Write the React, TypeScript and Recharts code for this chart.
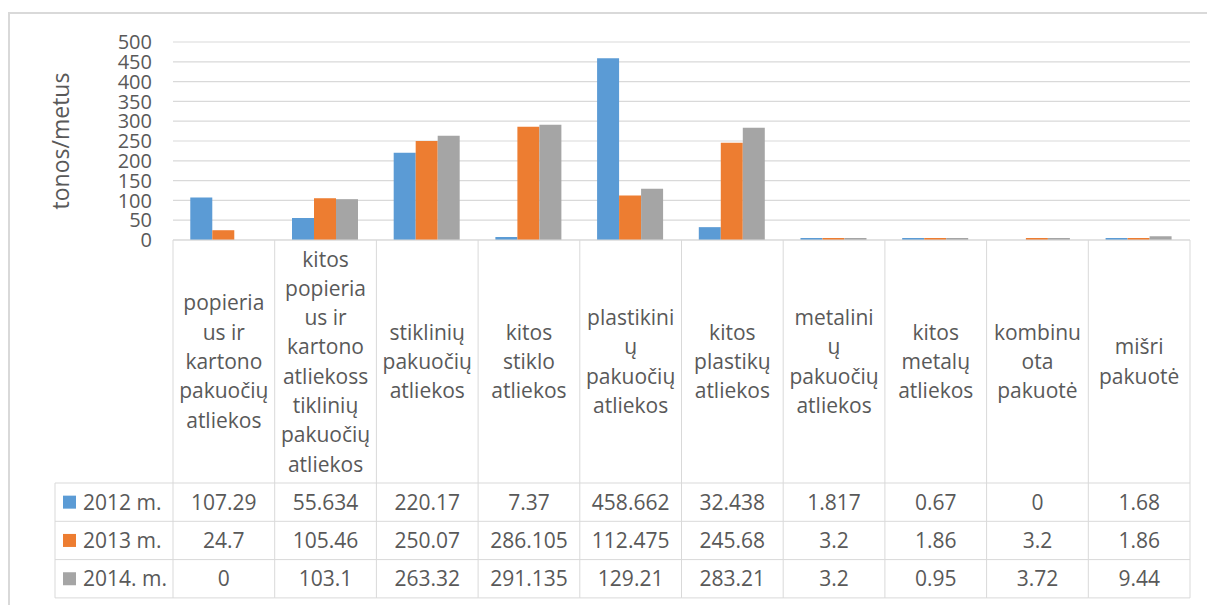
import React from 'react';
import { BarChart, Bar, XAxis, YAxis, CartesianGrid } from 'recharts';

// category labels, wrapped the way the original table wraps them
const categoryLines = [
  ['popieria', 'us ir', 'kartono', 'pakuočių', 'atliekos'],
  ['kitos', 'popieria', 'us ir', 'kartono', 'atliekoss', 'tiklinių', 'pakuočių', 'atliekos'],
  ['stiklinių', 'pakuočių', 'atliekos'],
  ['kitos', 'stiklo', 'atliekos'],
  ['plastikini', 'ų', 'pakuočių', 'atliekos'],
  ['kitos', 'plastikų', 'atliekos'],
  ['metalini', 'ų', 'pakuočių', 'atliekos'],
  ['kitos', 'metalų', 'atliekos'],
  ['kombinu', 'ota', 'pakuotė'],
  ['mišri', 'pakuotė'],
];
const categories = categoryLines.map((l) => l.join(' '));

const values2012 = [107.29, 55.634, 220.17, 7.37, 458.662, 32.438, 1.817, 0.67, 0, 1.68];
const values2013 = [24.7, 105.46, 250.07, 286.105, 112.475, 245.68, 3.2, 1.86, 3.2, 1.86];
const values2014 = [0, 103.1, 263.32, 291.135, 129.21, 283.21, 3.2, 0.95, 3.72, 9.44];

const seriesKeys = ['y2012', 'y2013', 'y2014'];
const seriesNames = ['2012 m.', '2013 m.', '2014. m.'];
const seriesColors = ['#5B9BD5', '#ED7D31', '#A5A5A5'];
const seriesValues = [values2012, values2013, values2014];

const yTicks = [0, 50, 100, 150, 200, 250, 300, 350, 400, 450, 500];
const yTitle = 'tonos/metus';

const data = categories.map((name, i) => ({
  name,
  y2012: values2012[i],
  y2013: values2013[i],
  y2014: values2014[i],
}));

// layout
const W = 1207;
const H = 605;
const PLOT_LEFT = 173;
const PLOT_RIGHT = 1190;
const PLOT_TOP = 42;
const AXIS_Y = 240;
const HEADER_BOTTOM = 483;
const ROW_H = 38.3;
const LEGEND_LEFT = 55;
const LINE_H = 29.3;
const BAND = (PLOT_RIGHT - PLOT_LEFT) / categories.length;
const FONT = '"Open Sans", sans-serif';
const TEXT = '#595959';
const GRID = '#d9d9d9';

const TableTick = (props: any) => {
  const { x, y, index } = props;
  const lines = categoryLines[index];
  const headerMid = (y + HEADER_BOTTOM) / 2;
  const left = x - BAND / 2;
  const right = x + BAND / 2;
  const tableBottom = HEADER_BOTTOM + ROW_H * 3;
  return (
    <g fontFamily={FONT} fontSize={21} fill={TEXT}>
      {index === 0 && <line x1={left} x2={left} y1={y} y2={tableBottom} stroke={GRID} />}
      <line x1={right} x2={right} y1={y} y2={tableBottom} stroke={GRID} />
      {[0, 1, 2, 3].map((r) => (
        <line key={r} x1={left} x2={right} y1={HEADER_BOTTOM + r * ROW_H} y2={HEADER_BOTTOM + r * ROW_H} stroke={GRID} />
      ))}
      {lines.map((t, i) => (
        <text key={t + i} x={x} y={headerMid + (i - (lines.length - 1) / 2) * LINE_H} dy="0.36em" textAnchor="middle">
          {t}
        </text>
      ))}
      {seriesValues.map((vals, r) => (
        <text key={r} x={x} y={HEADER_BOTTOM + (r + 0.5) * ROW_H} dy="0.36em" textAnchor="middle">
          {String(vals[index])}
        </text>
      ))}
      {index === 0 && (
        <g>
          <line x1={LEGEND_LEFT} x2={LEGEND_LEFT} y1={HEADER_BOTTOM} y2={tableBottom} stroke={GRID} />
          {[0, 1, 2, 3].map((r) => (
            <line key={r} x1={LEGEND_LEFT} x2={left} y1={HEADER_BOTTOM + r * ROW_H} y2={HEADER_BOTTOM + r * ROW_H} stroke={GRID} />
          ))}
          {seriesNames.map((n, r) => {
            const cy = HEADER_BOTTOM + (r + 0.5) * ROW_H;
            return (
              <g key={n}>
                <rect x={LEGEND_LEFT + 8} y={cy - 6.5} width={13} height={13} fill={seriesColors[r]} />
                <text x={LEGEND_LEFT + 28} y={cy} dy="0.36em" textAnchor="start">
                  {n}
                </text>
              </g>
            );
          })}
        </g>
      )}
    </g>
  );
};

const YTitle = (props: any) => {
  const vb = props.viewBox || { x: 0, y: PLOT_TOP, height: AXIS_Y - PLOT_TOP };
  const cx = vb.x + 61;
  const cy = vb.y + vb.height / 2;
  return (
    <text x={cx} y={cy} transform={`rotate(-90 ${cx} ${cy})`} textAnchor="middle" dy="0.36em" fontFamily={FONT} fontSize={23} fill={TEXT}>
      {yTitle}
    </text>
  );
};

// tiny non-zero values still show as a thin line, like in the original
const minBar = (v: any) => (v > 0 ? 2 : 0);

export default function App() {
  return (
    <div style={{ position: 'fixed', left: 0, top: 0, width: W, height: H, background: '#fff', overflow: 'hidden' }}>
      <div
        style={{
          position: 'absolute',
          left: 8,
          top: 12,
          width: W,
          height: H,
          borderTop: `2px solid ${GRID}`,
          borderLeft: `2px solid ${GRID}`,
          boxSizing: 'border-box',
        }}
      />
      <div style={{ position: 'absolute', left: 0, top: 0 }}>
        <BarChart
          width={W}
          height={H}
          data={data}
          margin={{ top: PLOT_TOP, right: W - PLOT_RIGHT, left: 0, bottom: 7 }}
          barCategoryGap="17%"
          barGap={0}
        >
          <CartesianGrid vertical={false} stroke={GRID} strokeWidth={1.2} />
          <XAxis
            dataKey="name"
            interval={0}
            height={H - 7 - AXIS_Y}
            axisLine={{ stroke: GRID }}
            tickLine={false}
            tickSize={0}
            tickMargin={0}
            tick={<TableTick />}
          />
          <YAxis
            width={PLOT_LEFT}
            domain={[0, 500]}
            ticks={yTicks}
            axisLine={false}
            tickLine={false}
            tickSize={0}
            tickMargin={21}
            interval={0}
            tick={{ fontFamily: FONT, fontSize: 20, fill: TEXT }}
            label={<YTitle />}
          />
          {seriesKeys.map((k, i) => (
            <Bar key={k} dataKey={k} name={seriesNames[i]} fill={seriesColors[i]} minPointSize={minBar} isAnimationActive={false} />
          ))}
        </BarChart>
      </div>
    </div>
  );
}
